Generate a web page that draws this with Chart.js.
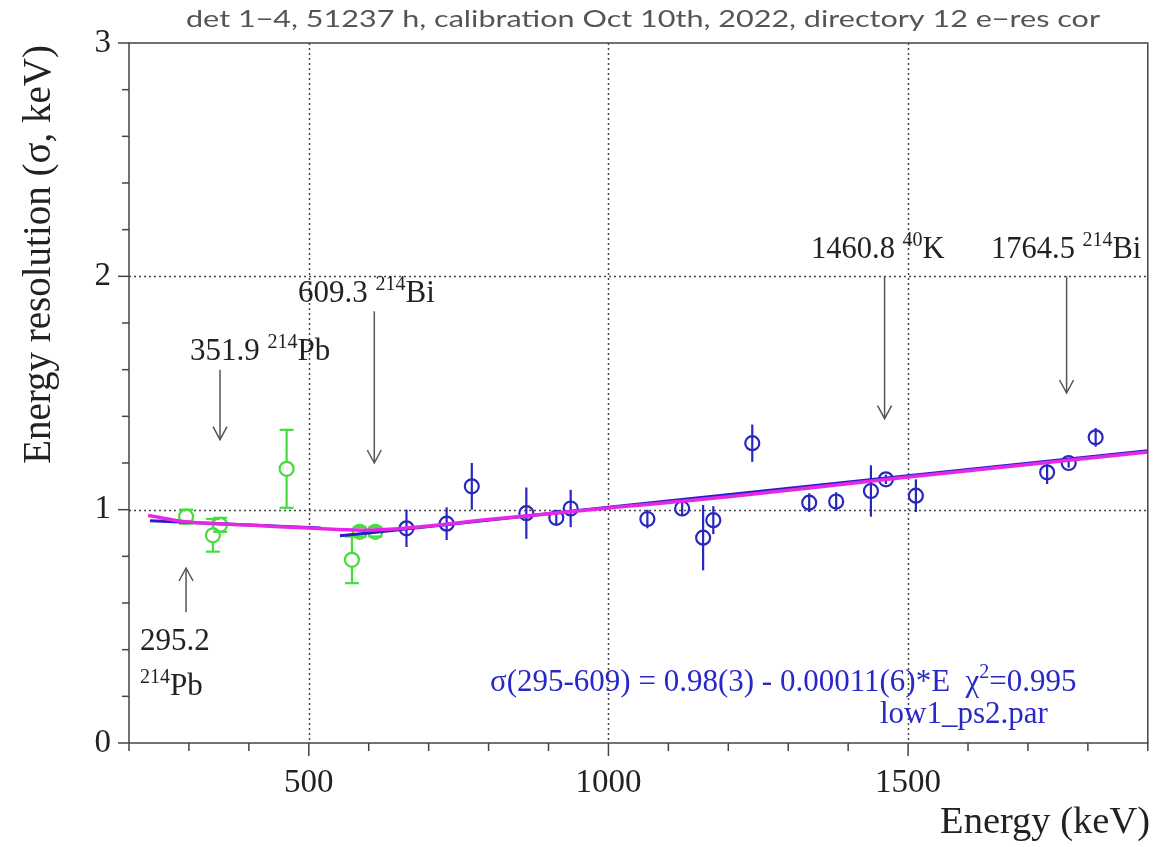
<html>
<head>
<meta charset="UTF-8">
<title>Energy resolution</title>
<script src="https://cdn.jsdelivr.net/npm/chart.js@4.4.0/dist/chart.umd.min.js"></script>
<style>
    body { margin: 0; background: #fff; }
</style>
</head>
<body>
<canvas id="myChart" width="1157" height="847"></canvas>
<script>
    // low energy lines (295-609 fit), green
    var greenE   = [295.2, 340, 352, 463, 572, 585, 611];
    var greenSig = [0.97, 0.89, 0.935, 1.175, 0.785, 0.905, 0.905];
    var greenErr = [0.03, 0.07, 0.03, 0.167, 0.10, 0.02, 0.02];

    // other lines, blue
    var blueE   = [663, 730, 772, 863, 913, 937, 1065, 1123, 1158, 1175, 1240, 1335, 1380, 1438, 1463, 1513, 1732, 1768, 1813];
    var blueSig = [0.92, 0.94, 1.10, 0.985, 0.965, 1.005, 0.96, 1.005, 0.88, 0.955, 1.285, 1.03, 1.035, 1.08, 1.13, 1.06, 1.16, 1.20, 1.31];
    var blueErr = [0.08, 0.07, 0.10, 0.11, 0.03, 0.08, 0.04, 0.03, 0.14, 0.06, 0.08, 0.04, 0.04, 0.11, 0.02, 0.07, 0.05, 0.02, 0.04];

    // fit curves
    var fitLowE   = [235, 520];
    var fitLowSig = [0.952, 0.921];
    var fitHighE   = [552, 600, 1000, 1500, 1900];
    var fitHighSig = [0.888, 0.90, 1.01, 1.145, 1.252];
    var magE   = [232, 300, 400, 500, 600, 700, 800, 1000, 1200, 1500, 1900];
    var magSig = [0.975, 0.947, 0.934, 0.921, 0.912, 0.93, 0.958, 1.007, 1.055, 1.14, 1.247];

    // peak markers
    var peakE    = [295.2, 351.9, 609.3, 1460.8, 1764.5];
    var arrowTop = [0.56, 1.60, 1.85, 2.0, 2.0];
    var arrowTip = [0.75, 1.30, 1.20, 1.39, 1.50];

    var xTickLabels = [500, 1000, 1500];
    var yTickLabels = [0, 1, 2, 3];

    var serif = '"Liberation Serif", "Times New Roman", serif';

    function pts(xs, ys) {
        var out = [];
        for (var i = 0; i < xs.length; i++) out.push({x: xs[i], y: ys[i]});
        return out;
    }

    function seg(ctx, x1, y1, x2, y2) {
        ctx.beginPath(); ctx.moveTo(x1, y1); ctx.lineTo(x2, y2); ctx.stroke();
    }

    // text with superscripts: parts = [[text, size, raise], ...]
    function drawParts(ctx, x, y, parts, color) {
        ctx.fillStyle = color;
        ctx.textBaseline = 'alphabetic';
        ctx.textAlign = 'left';
        parts.forEach(function (p) {
            ctx.font = p[1] + 'px ' + serif;
            ctx.fillText(p[0], x, y - (p[2] || 0));
            x += ctx.measureText(p[0]).width;
        });
    }

    function errorBars(ctx, xs, ys, E, S, Err, color, caps) {
        ctx.save();
        ctx.strokeStyle = color;
        ctx.lineWidth = 2.2;
        for (var i = 0; i < E.length; i++) {
            var px = xs.getPixelForValue(E[i]);
            var hi = ys.getPixelForValue(S[i] + Err[i]);
            var lo = ys.getPixelForValue(S[i] - Err[i]);
            var c = ys.getPixelForValue(S[i]);
            if (caps) {
                if (c - hi > 7) seg(ctx, px, hi, px, c - 7);
                if (lo - c > 7) seg(ctx, px, c + 7, px, lo);
                seg(ctx, px - 7, hi, px + 7, hi);
                seg(ctx, px - 7, lo, px + 7, lo);
            } else {
                seg(ctx, px, hi, px, lo);
            }
        }
        ctx.restore();
    }

    var decor = {
        id: 'decor',
        beforeDatasetsDraw: function (chart) {
            var ctx = chart.ctx, xs = chart.scales.x, ys = chart.scales.y, a = chart.chartArea;
            ctx.save();
            ctx.strokeStyle = '#444';
            ctx.lineWidth = 1.5;
            ctx.setLineDash([2, 3]);
            xTickLabels.forEach(function (v) {
                var px = Math.round(xs.getPixelForValue(v)) + 0.5;
                seg(ctx, px, a.top, px, a.bottom);
            });
            [1, 2].forEach(function (v) {
                var py = Math.round(ys.getPixelForValue(v)) + 0.5;
                seg(ctx, a.left, py, a.right, py);
            });
            ctx.restore();
            errorBars(ctx, xs, ys, greenE, greenSig, greenErr, 'rgb(70,220,60)', true);
            errorBars(ctx, xs, ys, blueE, blueSig, blueErr, 'rgb(40,40,190)', false);
        },
        afterDatasetsDraw: function (chart) {
            var ctx = chart.ctx, xs = chart.scales.x, ys = chart.scales.y, a = chart.chartArea;
            ctx.save();
            // frame
            ctx.strokeStyle = '#444';
            ctx.lineWidth = 1.5;
            ctx.strokeRect(a.left, a.top, a.right - a.left, a.bottom - a.top);
            // x ticks
            for (var e = 200; e <= 1900; e += 100) {
                var px = xs.getPixelForValue(e);
                var major = (e % 500 === 0);
                seg(ctx, px, a.bottom, px, a.bottom + (major ? 13 : 8));
            }
            // y ticks
            for (var k = 0; k <= 15; k++) {
                var py = ys.getPixelForValue(k * 0.2);
                var maj = (k % 5 === 0);
                seg(ctx, a.left, py, a.left - (maj ? 11 : 7), py);
            }
            // tick labels
            ctx.fillStyle = '#222';
            ctx.font = '33px ' + serif;
            ctx.textAlign = 'center';
            ctx.textBaseline = 'alphabetic';
            xTickLabels.forEach(function (v) {
                ctx.fillText(String(v), xs.getPixelForValue(v), a.bottom + 49);
            });
            ctx.textAlign = 'right';
            ctx.textBaseline = 'middle';
            yTickLabels.forEach(function (v) {
                ctx.fillText(String(v), a.left - 18, ys.getPixelForValue(v));
            });

            // axis titles
            ctx.font = '38.5px ' + serif;
            ctx.textAlign = 'right';
            ctx.textBaseline = 'alphabetic';
            ctx.fillText('Energy (keV)', 1150, 833);
            ctx.save();
            ctx.translate(50, 45);
            ctx.rotate(-Math.PI / 2);
            ctx.font = '39px ' + serif;
            ctx.textAlign = 'right';
            ctx.fillText('Energy resolution (\u03c3, keV)', 0, 0);
            ctx.restore();

            // title, stretched to the width of the original
            var title = 'det 1\u22124, 51237 h, calibration Oct 10th, 2022, directory 12 e\u2212res cor';
            ctx.fillStyle = '#555';
            ctx.font = '23px Lato, "DejaVu Sans", sans-serif';
            ctx.textAlign = 'left';
            ctx.textBaseline = 'middle';
            var tw = ctx.measureText(title).width;
            ctx.save();
            ctx.translate(186, 20);
            ctx.scale(914 / tw, 1);
            ctx.fillText(title, 0, 0);
            ctx.restore();

            // arrows
            ctx.strokeStyle = '#555';
            ctx.lineWidth = 1.5;
            for (var i = 0; i < peakE.length; i++) {
                var ax = xs.getPixelForValue(peakE[i]);
                var y1 = ys.getPixelForValue(arrowTop[i]);
                var y2 = ys.getPixelForValue(arrowTip[i]);
                var dir = y2 > y1 ? 1 : -1;
                seg(ctx, ax, y1, ax, y2);
                ctx.beginPath();
                ctx.moveTo(ax - 7, y2 - dir * 13);
                ctx.lineTo(ax, y2);
                ctx.lineTo(ax + 7, y2 - dir * 13);
                ctx.stroke();
            }

            // peak labels
            var dark = '#222';
            drawParts(ctx, 190, 360, [['351.9 ', 31], ['214', 20, 12], ['Pb', 31]], dark);
            drawParts(ctx, 298, 302, [['609.3 ', 31], ['214', 20, 12], ['Bi', 31]], dark);
            drawParts(ctx, 811, 258, [['1460.8 ', 30.5], ['40', 20, 12], ['K', 30.5]], dark);
            drawParts(ctx, 991, 258, [['1764.5 ', 30.5], ['214', 20, 12], ['Bi', 30.5]], dark);
            drawParts(ctx, 140, 650, [['295.2', 31]], dark);
            drawParts(ctx, 140, 695, [['214', 20, 12], ['Pb', 31]], dark);

            // fit result
            var blue = 'rgb(40,40,200)';
            drawParts(ctx, 490, 691, [['\u03c3(295-609) = 0.98(3) - 0.00011(6)*E  \u03c7', 31], ['2', 20, 13], ['=0.995', 31]], blue);
            drawParts(ctx, 880, 723, [['low1_ps2.par', 31]], blue);
            ctx.restore();
        }
    };

    var ctx = document.getElementById('myChart');
    var myChart = new Chart(ctx, {
        type: 'scatter',
        data: {
            datasets: [
                {label: 'fit all', data: pts(magE, magSig), showLine: true, tension: 0.4,
                    borderColor: 'rgb(230,40,230)', borderWidth: 3.5, pointRadius: 0, order: 0},
                {label: 'fit high', data: pts(fitHighE, fitHighSig), showLine: true,
                    borderColor: 'rgb(40,30,200)', borderWidth: 3, pointRadius: 0, order: 1},
                {label: 'fit low', data: pts(fitLowE, fitLowSig), showLine: true,
                    borderColor: 'rgb(40,30,200)', borderWidth: 3, pointRadius: 0, order: 1},
                {label: 'low lines', data: pts(greenE, greenSig), showLine: false,
                    pointStyle: 'circle', pointRadius: 7, borderWidth: 2.2,
                    borderColor: 'rgb(70,220,60)', backgroundColor: 'rgba(0,0,0,0)', order: 2},
                {label: 'lines', data: pts(blueE, blueSig), showLine: false,
                    pointStyle: 'circle', pointRadius: 7, borderWidth: 2.2,
                    borderColor: 'rgb(40,40,190)', backgroundColor: 'rgba(0,0,0,0)', order: 3}
            ]
        },
        options: {
            responsive: false,
            animation: false,
            devicePixelRatio: 1,
            layout: {padding: {left: 129, right: 6, top: 43, bottom: 104}},
            plugins: {legend: {display: false}, tooltip: {enabled: false}},
            scales: {
                x: {type: 'linear', min: 200, max: 1900, display: false},
                y: {type: 'linear', min: 0, max: 3, display: false}
            }
        },
        plugins: [decor]
    });
</script>
</body>
</html>
